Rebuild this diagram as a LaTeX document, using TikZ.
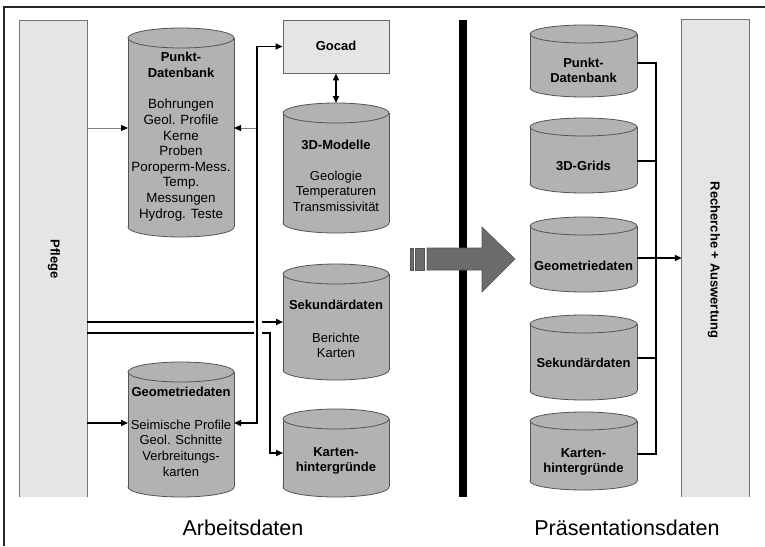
\documentclass[tikz,border=0pt]{standalone}
\usepackage{fontspec}
\setmainfont{Liberation Sans}
\usetikzlibrary{arrows.meta}
\definecolor{cylgray}{gray}{0.70}
\definecolor{boxgray}{gray}{0.90}
\definecolor{edgegray}{gray}{0.33}
\definecolor{bigarrow}{gray}{0.42}
\definecolor{thingray}{gray}{0.50}
\tikzset{
  cylstyle/.style={fill=cylgray, draw=edgegray, line width=0.8pt},
  cylline/.style={draw=edgegray, line width=0.8pt},
  boxline/.style={draw=gray!90!black, line width=0.9pt},
  txt/.style={font=\fontsize{13}{15.6}\selectfont, align=center, inner sep=0pt},
  ttl/.style={font=\fontsize{13}{16}\selectfont\bfseries, align=center, inner sep=0pt},
  blk/.style={draw=black, line width=1.7pt},
  rblk/.style={draw=black, line width=1.4pt},
  thinl/.style={draw=thingray, line width=0.8pt},
  captxt/.style={font=\fontsize{21.5}{24}\selectfont, inner sep=0pt},
}
\newcommand\mycyl[6]{% name, x1, x2, ytop, ybot, ry
  \pgfmathsetmacro\myCx{(#2+#3)/2}
  \pgfmathsetmacro\myRx{(#3-#2)/2}
  \pgfmathsetmacro\myYt{#4+#6}
  \pgfmathsetmacro\myYb{#5-#6}
  \filldraw[cylstyle] (\myCx,\myYb) ellipse[x radius=\myRx, y radius=#6];
  \fill[cylgray] (#2,\myYt) rectangle (#3,\myYb);
  \draw[cylline] (#2,\myYt) -- (#2,\myYb) (#3,\myYt) -- (#3,\myYb);
  \filldraw[cylstyle] (\myCx,\myYt) ellipse[x radius=\myRx, y radius=#6];
  \pgfmathsetmacro\myCy{(#4+#5)/2}
  \pgfmathsetmacro\myW{#3-#2}
  \pgfmathsetmacro\myH{#5-#4}
  \node[inner sep=0pt, outer sep=0pt, minimum width=\myW pt, minimum height=\myH pt] (#1) at (\myCx,\myCy) {};
}
\begin{document}
\begin{tikzpicture}[x=1pt, y=-1pt, >={Triangle[length=7pt,width=6pt]}]
\useasboundingbox (0,0) rectangle (765,546);
\fill[white] (0,0) rectangle (765,546);
% outer frame (top and left edge)
\draw[line width=1.4pt, black!85] (765,7) -- (4,7) -- (4,546);

% Pflege box
\node[inner sep=0pt, minimum width=67pt, minimum height=476pt] (pflege) at (53.5,259) {};
\fill[boxgray] (pflege.north west) rectangle (pflege.south east);
\draw[boxline] (pflege.south west) -- (pflege.north west) -- (pflege.north east) -- (pflege.south east);
\node[ttl, rotate=-90] (pflegeT) at (54,259) {Pflege};

% Recherche box
\node[inner sep=0pt, minimum width=67pt, minimum height=477pt] (rech) at (715.5,258.5) {};
\fill[boxgray] (rech.north west) rectangle (rech.south east);
\draw[boxline] (rech.south west) -- (rech.north west) -- (rech.north east) -- (rech.south east);
\node[ttl, rotate=-90] (rechT) at (714,260) {Recherche + Auswertung};

% Gocad
\node[fill=boxgray, draw=gray!80!black, line width=0.9pt, minimum width=106pt, minimum height=53pt, inner sep=0pt] (gocad) at (336,46.5) {};
\node[ttl] (gocadT) at (336,46) {Gocad};

% left cylinders
\mycyl{pdb}{128}{234}{28}{237}{10}
\node[ttl] (pdbT) at (181,65) {Punkt-\\Datenbank};
\node[txt, font=\fontsize{13.4}{15.6}\selectfont] (pdbB) at (181,160) {Bohrungen\\Geol. Profile\\Kerne\\Proben\\Poroperm-Mess.\\Temp.\\Messungen\\Hydrog. Teste};

\mycyl{geoL}{128}{234}{362}{497}{10}
\node[ttl] (geoLT) at (181,392) {Geometriedaten};
\node[txt] (geoLB) at (181,448) {Seimische Profile\\Geol. Schnitte\\Verbreitungs-\\karten};

\mycyl{mod}{283}{389}{103}{233}{10}
\node[ttl] (modT) at (336,145) {3D-Modelle};
\node[txt] (modB) at (336,191) {Geologie\\Temperaturen\\Transmissivität};

\mycyl{sek}{283}{389}{264}{380}{10}
\node[ttl] (sekT) at (336,305) {Sekundärdaten};
\node[txt] (sekB) at (336,345.5) {Berichte\\Karten};

\mycyl{kart}{283}{389}{409}{497}{10}
\node[ttl, font=\fontsize{13}{15}\selectfont\bfseries] (kartT) at (336,461) {Karten-\\hintergründe};

% right cylinders
\mycyl{rpdb}{530}{637}{25}{97}{9}
\node[ttl, font=\fontsize{13}{15}\selectfont\bfseries] (rpdbT) at (583.5,70) {Punkt-\\Datenbank};
\mycyl{rgrid}{530}{637}{118}{193}{9}
\node[ttl] (rgridT) at (583.5,166) {3D-Grids};
\mycyl{rgeo}{530}{637}{217}{292}{9}
\node[ttl] (rgeoT) at (583.5,266) {Geometriedaten};
\mycyl{rsek}{530}{637}{315}{400}{9}
\node[ttl] (rsekT) at (583.5,363) {Sekundärdaten};
\mycyl{rkart}{530}{637}{412}{490}{9}
\node[ttl, font=\fontsize{13}{15.5}\selectfont\bfseries] (rkartT) at (583.5,462) {Karten-\\hintergründe};

% helper coordinates
\coordinate (vx) at (257,0);
\coordinate (gapL) at (253.5,0);
\coordinate (gapR) at (262,0);
\coordinate (bx) at (270,0);
\coordinate (rx) at (656,0);
\coordinate (y128) at (0,128);
\coordinate (y322) at (0,322);
\coordinate (y333) at (0,333);
\coordinate (y423) at (0,423);
\coordinate (y453) at (0,453);
\coordinate (y63) at (0,63);
\coordinate (y161) at (0,161);
\coordinate (y258) at (0,258);
\coordinate (y358) at (0,358);
\coordinate (y454) at (0,454);

% left connectors
\draw[thinl, -{Triangle[length=7pt,width=6pt,color=black]}] (pflege.east |- y128) -- (pdb.west |- y128);
\draw[thinl, -{Triangle[length=7pt,width=6pt,color=black]}] (vx |- y128) -- (pdb.east |- y128);
\draw[blk, <->] (gocad.west) -- (vx |- gocad.west) -- (vx |- y423) -- (geoL.east |- y423);
\draw[blk, ->] (pflege.east |- y423) -- (geoL.west |- y423);
\draw[blk] (pflege.east |- y322) -- (gapL |- y322);
\draw[blk, ->] (gapR |- y322) -- (sek.west |- y322);
\draw[blk] (pflege.east |- y333) -- (gapL |- y333);
\draw[blk, ->] (gapR |- y333) -- (bx |- y333) -- (bx |- y453) -- (kart.west |- y453);
\draw[blk, <->] (gocad.south) -- (mod.north);

% right connectors
\draw[rblk] (rpdb.east |- y63) -- (rx |- y63) -- (rx |- y454) -- (rkart.east |- y454);
\draw[rblk] (rgrid.east |- y161) -- (rx |- y161);
\draw[rblk] (rsek.east |- y358) -- (rx |- y358);
\draw[rblk, ->] (rgeo.east |- y258) -- (rech.west |- y258);

% black separator bar
\fill[black] (459,20) rectangle (467,497);

% big arrow
\filldraw[fill=bigarrow, draw=edgegray, line width=0.6pt] (410,248) rectangle (413,270);
\filldraw[fill=bigarrow, draw=edgegray, line width=0.6pt] (415.5,248) rectangle (424,270);
\filldraw[fill=bigarrow, draw=edgegray, line width=0.6pt] (427,248) -- (482,248) -- (482,227) -- (515,259) -- (482,292) -- (482,270) -- (427,270) -- cycle;

% captions
\node[captxt] (capL) at (243,528) {Arbeitsdaten};
\node[captxt] (capR) at (627,528) {Präsentationsdaten};
\end{tikzpicture}
\end{document}
